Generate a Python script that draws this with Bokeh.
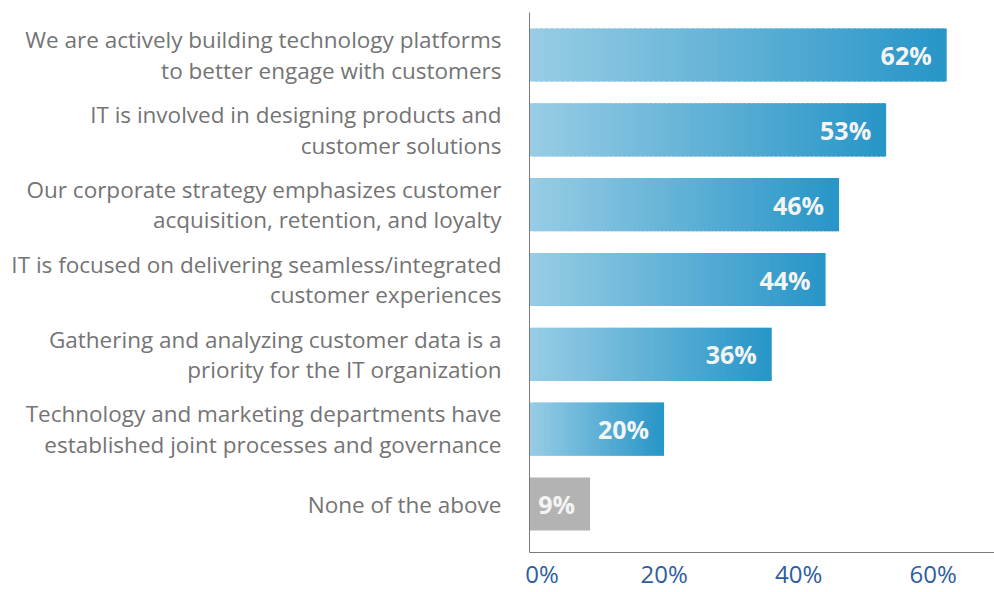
import numpy as np
from bokeh.plotting import figure
from bokeh.models import FixedTicker, Range1d
from bokeh.core.properties import value
from bokeh.embed import file_html
from bokeh.resources import INLINE

categories = [
    "We are actively building technology platforms\nto better engage with customers",
    "IT is involved in designing products and\ncustomer solutions",
    "Our corporate strategy emphasizes customer\nacquisition, retention, and loyalty",
    "IT is focused on delivering seamless/integrated\ncustomer experiences",
    "Gathering and analyzing customer data is a\npriority for the IT organization",
    "Technology and marketing departments have\nestablished joint processes and governance",
    "None of the above",
]
values = [62, 53, 46, 44, 36, 20, 9]
value_labels = ["62%", "53%", "46%", "44%", "36%", "20%", "9%"]
is_gray = [False, False, False, False, False, False, True]
x_ticks = [0, 20, 40, 60]
x_tick_labels = ["\u00a0\u00a0\u00a0\u00a00%", "20%", "40%", "60%"]

n = len(categories)
ypos = [n - 1 - i for i in range(n)]

p = figure(width=994, height=592, output_backend="svg", toolbar_location=None,
           x_range=Range1d(0, 69.1), y_range=Range1d(-0.648, 6.568),
           min_border_left=529, min_border_right=0, min_border_top=12,
           min_border_bottom=40)

c0 = np.array([152, 205, 229])
c1 = np.array([40, 150, 200])
N = 80
bh = 0.71
for v, y, g in zip(values, ypos, is_gray):
    if g:
        p.hbar(y=[y], left=[0], right=[v], height=bh, fill_color="#B3B3B3", line_color=None)
        continue
    lefts, rights, cols = [], [], []
    for i in range(N):
        t = i / (N - 1)
        c = (c0 + (c1 - c0) * t).astype(int)
        lefts.append(v * i / N)
        rights.append(v * min(i + 1.6, N) / N)
        cols.append("#%02x%02x%02x" % tuple(c))
    p.hbar(y=[y] * N, left=lefts, right=rights, height=bh, fill_color=cols,
           line_color=None)

p.text(x=values, y=ypos, text=value_labels, text_align="right", text_baseline="middle",
       x_offset=-15, text_font=value("Open Sans"), text_font_style="bold",
       text_font_size="25px", text_color="#F4F4F4")

p.xaxis.ticker = FixedTicker(ticks=x_ticks)
p.xaxis.major_label_overrides = {t: l for t, l in zip(x_ticks, x_tick_labels)}
p.xaxis.major_label_text_font = "Open Sans"
p.xaxis.major_label_text_font_size = "24px"
p.xaxis.major_label_text_color = "#2E5E9E"
p.xaxis.major_label_standoff = 4
p.xaxis.major_tick_out = 0
p.xaxis.major_tick_in = 0
p.xaxis.minor_tick_out = 0
p.xaxis.minor_tick_in = 0
p.xaxis.major_tick_line_color = None
p.xaxis.minor_tick_line_color = None
p.xaxis.axis_line_color = "#7a7a7a"

p.yaxis.ticker = FixedTicker(ticks=ypos)
p.yaxis.major_label_overrides = {y: c for y, c in zip(ypos, categories)}
p.yaxis.major_label_text_font = "Open Sans"
p.yaxis.major_label_text_font_size = "22.5px"
p.yaxis.major_label_text_line_height = 0.98
p.yaxis.major_label_text_color = "#747474"
p.yaxis.major_label_standoff = 28
p.yaxis.major_tick_out = 0
p.yaxis.major_tick_in = 0
p.yaxis.minor_tick_out = 0
p.yaxis.minor_tick_in = 0
p.yaxis.major_tick_line_color = None
p.yaxis.minor_tick_line_color = None
p.yaxis.axis_line_color = "#7a7a7a"

p.grid.visible = False
p.outline_line_color = None
p.background_fill_color = "white"
p.border_fill_color = "white"

open("out.html", "w").write(file_html(p, INLINE))
